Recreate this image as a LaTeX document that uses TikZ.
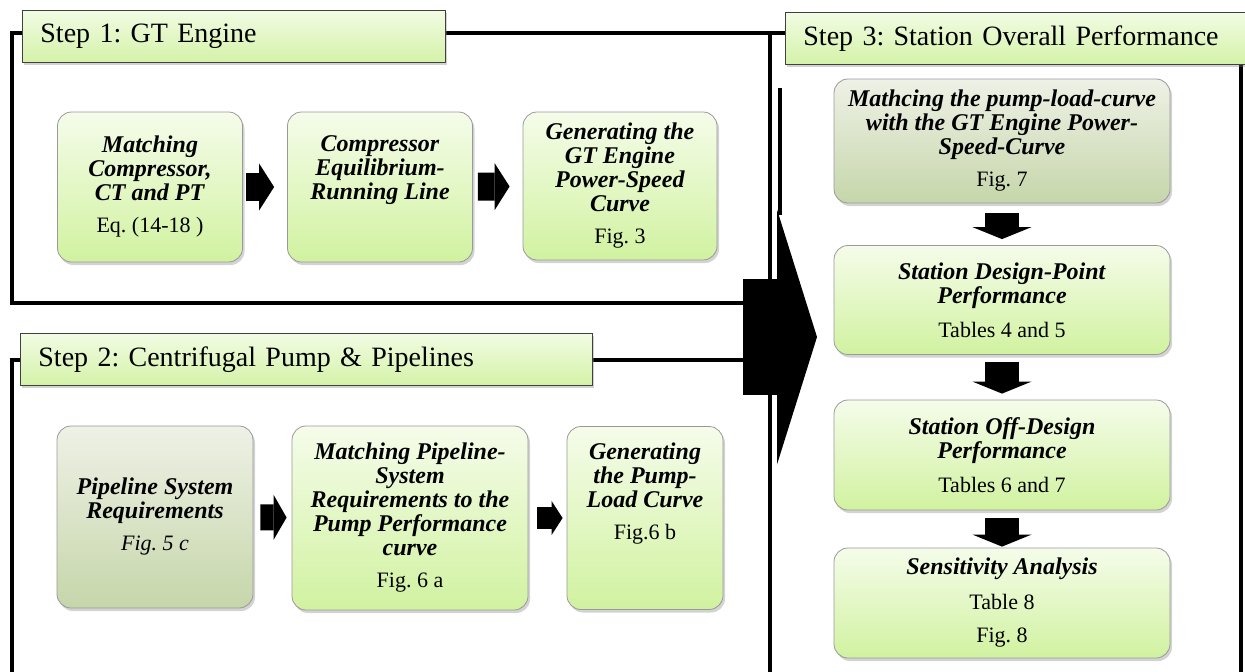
\documentclass[tikz,border=0pt]{standalone}
\usepackage{fontspec}
\setmainfont{Liberation Serif}
\frenchspacing
\usetikzlibrary{arrows.meta, shadows, positioning}

\definecolor{boxtop}{HTML}{F5FCEA}
\definecolor{boxbot}{HTML}{D1F2A0}
\definecolor{greytop}{HTML}{EEF1E6}
\definecolor{greybot}{HTML}{C6D6AA}
\definecolor{headtop}{HTML}{F2FCE4}
\definecolor{headbot}{HTML}{D4F2A8}

\newcommand{\bi}[1]{\textbf{\textit{#1}}}
\newcommand{\rl}[1]{{\fontsize{22}{24}\selectfont #1}}

\tikzset{
  frame/.style={line width=4pt},
  header/.style={draw=black!75, line width=0.8pt, top color=headtop, bottom color=headbot,
    drop shadow={opacity=0.35, shadow xshift=2pt, shadow yshift=-3pt},
    anchor=north west, minimum height=52pt, inner xsep=18pt, text width=#1, align=left,
    font=\fontsize{28}{28}\selectfont},
  stepbox/.style={draw=black!40, line width=0.8pt, rounded corners=14pt,
    top color=boxtop, bottom color=boxbot,
    drop shadow={opacity=0.35, shadow xshift=2pt, shadow yshift=-3pt},
    align=center, inner sep=0pt, font=\fontsize{24}{24}\selectfont},
  greybox/.style={stepbox, top color=greytop, bottom color=greybot},
  fatarrow/.style n args={3}{line width=#1, -{Triangle[length=#2, width=#3, line width=0pt]}},
}

\begin{document}
\begin{tikzpicture}[x=1pt,y=-1pt]
\path[use as bounding box, clip] (0,0) rectangle (1245,672);

% frames of the three steps
\draw[frame] (12,33) rectangle (770,303);
\draw[frame] (12,360) rectangle (770,700);
\draw[frame] (770,33) rectangle (1241,700);
\draw[frame] (780,88) -- (780,215);

% big arrow into step 3
\coordinate (bigtail) at (743,337);
\coordinate (bighead) at (817,337);
\draw[fatarrow={116pt}{40pt}{255pt}] (bigtail) -- (bighead);

% headers
\node[header=387pt] (h1) at (22,10) {\raisebox{-3pt}{Step 1: GT Engine}};
\node[header=536pt] (h2) at (20,333) {Step 2: Centrifugal Pump \& Pipelines};
\node[header=434pt] (h3) at (785,12) {Step 3: Station Overall Performance};

% step 1
\node[stepbox, minimum width=185pt, minimum height=150pt] (m1) at (150,187)
  {\bi{Matching}\\\bi{Compressor,}\\\bi{CT and PT}\\[8pt]\rl{Eq. (14-18 )}};
\node[stepbox, minimum width=185pt, minimum height=150pt] (m2) at (380,187)
  {\bi{Compressor}\\\bi{Equilibrium-}\\\bi{Running Line}\\[8pt]\rl{\strut}};
\node[stepbox, minimum width=194pt, minimum height=148pt] (m3) at (620,186)
  {\bi{Generating the}\\\bi{GT Engine}\\\bi{Power-Speed}\\\bi{Curve}\\[8pt]\rl{Fig. 3}};

% step 2
\node[greybox, minimum width=196pt, minimum height=182pt] (p1) at (155,517)
  {\bi{Pipeline System}\\\bi{Requirements}\\[8pt]\rl{\textit{Fig. 5 c}}};
\node[stepbox, minimum width=236pt, minimum height=184pt] (p2) at (410,518)
  {\bi{Matching Pipeline-}\\\bi{System}\\\bi{Requirements to the}\\\bi{Pump Performance}\\\bi{curve}\\[8pt]\rl{Fig. 6 a}};
\node[stepbox, minimum width=156pt, minimum height=183pt] (p3) at (645,518)
  {\bi{Generating}\\\bi{the Pump-}\\\bi{Load Curve}\\[8pt]\rl{Fig.6 b}\\[30pt]};

% step 3
\node[greybox, minimum width=336pt, minimum height=124pt] (s1) at (1002,141)
  {\bi{Mathcing the pump-load-curve}\\\bi{with the GT Engine Power-}\\\bi{Speed-Curve}\\[8pt]\rl{Fig. 7}};
\node[stepbox, minimum width=336pt, minimum height=109pt] (s2) at (1002,300)
  {\bi{Station Design-Point}\\\bi{Performance}\\[10pt]\rl{Tables 4 and 5}};
\node[stepbox, minimum width=336pt, minimum height=110pt] (s3) at (1002,455)
  {\bi{Station Off-Design}\\\bi{Performance}\\[10pt]\rl{Tables 6 and 7}};
\node[stepbox, minimum width=336pt, minimum height=110pt] (s4) at (1002,603)
  {\bi{Sensitivity Analysis}\\[11pt]\rl{Table 8}\\[9pt]\rl{Fig. 8}};

% block arrows between the boxes
\draw[fatarrow={28pt}{15pt}{47pt}, shorten <=3pt, shorten >=13pt] (m1) -- (m2);
\draw[fatarrow={28pt}{15pt}{47pt}, shorten <=5pt, shorten >=13pt] (m2) -- (m3);
\draw[fatarrow={26pt}{13pt}{45pt}, shorten <=7pt, shorten >=5pt] (p1) -- (p2);
\draw[fatarrow={22pt}{11pt}{34pt}, shorten <=9pt, shorten >=4pt] (p2) -- (p3);
\draw[fatarrow={34pt}{12pt}{59pt}, shorten <=10pt, shorten >=6pt] (s1) -- (s2);
\draw[fatarrow={34pt}{12pt}{59pt}, shorten <=7pt, shorten >=6pt] (s2) -- (s3);
\draw[fatarrow={34pt}{12pt}{59pt}, shorten <=8pt, shorten >=1pt] (s3) -- (s4);
\end{tikzpicture}
\end{document}
